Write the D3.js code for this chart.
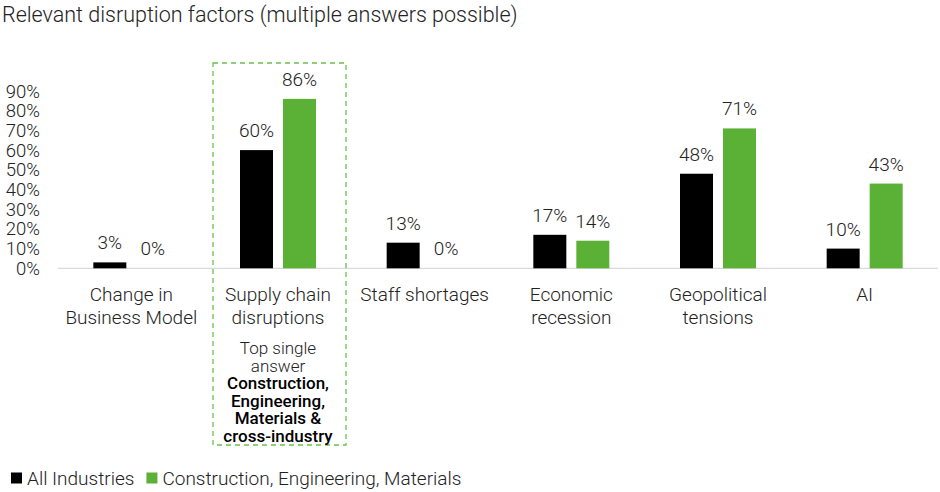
<!DOCTYPE html>
<html><head><meta charset="utf-8">
<script src="https://cdn.jsdelivr.net/npm/d3@7"></script>
<style>
body{margin:0;background:#fff;}
text{font-family:Roboto,"Noto Sans",sans-serif;font-weight:300;fill:#222;}
</style></head>
<body><svg id="c" width="940" height="492"></svg>
<script>
const categories = [["Change in","Business Model"],["Supply chain","disruptions"],["Staff shortages"],["Economic","recession"],["Geopolitical","tensions"],["AI"]];
const allIndustries = [3,60,13,17,48,10];
const construction = [0,86,0,14,71,43];
const yTicks = [0,10,20,30,40,50,60,70,80,90];
const seriesNames = ["All Industries","Construction, Engineering, Materials"];
const colors = ["#000000","#5bb135"];
const annotation = [["Top single",300],["answer",300],["Construction,",500],["Engineering,",500],["Materials &",500],["cross-industry",500]];

const svg = d3.select("#c");
const x = d3.scaleBand().domain(d3.range(categories.length)).range([58,938]);
const y = d3.scaleLinear().domain([0,90]).range([268.3,91]);
const barW = 33, gap = 10;

svg.append("text").attr("x",2).attr("y",22).style("font-size","21.5px").text("Relevant disruption factors (multiple answers possible)");

// y axis labels
svg.append("g").selectAll("text").data(yTicks).join("text")
 .attr("x",40).attr("y",d=>y(d)+6.5).attr("text-anchor","end").style("font-size","18.5px").text(d=>d+"%");

// baseline
svg.append("line").attr("x1",58).attr("x2",938).attr("y1",y(0)).attr("y2",y(0)).attr("stroke","#d9d9d9").attr("stroke-width",1.2);

const series=[allIndustries,construction];
series.forEach((s,si)=>{
  const off = si===0 ? -gap/2-barW : gap/2;
  const g=svg.append("g");
  g.selectAll("rect").data(s).join("rect")
   .attr("x",(d,i)=>x(i)+x.bandwidth()/2+off).attr("width",barW)
   .attr("y",d=>y(d)).attr("height",d=>y(0)-y(d)).attr("fill",colors[si]);
  g.selectAll("text").data(s).join("text")
   .attr("x",(d,i)=>x(i)+x.bandwidth()/2+off+barW/2).attr("y",d=>y(d)-13)
   .attr("text-anchor","middle").style("font-size","19px").text(d=>d+"%");
});

// category labels
const cg=svg.append("g");
categories.forEach((lines,i)=>{
  lines.forEach((l,j)=>{
    cg.append("text").attr("x",x(i)+x.bandwidth()/2).attr("y",300.5+j*23).attr("text-anchor","middle").style("font-size","19px").text(l);
  });
});

// highlight box
const bx = x(1)+x.bandwidth()/2;
svg.append("rect").attr("x",213).attr("y",63).attr("width",133).attr("height",382)
 .attr("fill","none").attr("stroke","#6cc04a").attr("stroke-width",1.3).attr("stroke-dasharray","5,4");
annotation.forEach((a,i)=>{
  svg.append("text").attr("x",bx).attr("y",354+i*17.5).attr("text-anchor","middle")
   .style("font-size","17px").style("font-weight",a[1]).style("fill",a[1]===500?"#000":"#222").text(a[0]);
});

// legend
const lg=svg.append("g");
let lx=11;
seriesNames.forEach((n,i)=>{
  lg.append("rect").attr("x",lx).attr("y",472.5).attr("width",11).attr("height",11).attr("fill",colors[i]);
  const t=lg.append("text").attr("x",lx+16).attr("y",484.5).style("font-size","19px").text(n);
  lx += 16 + t.node().getComputedTextLength() + 12;
});
</script></body></html>
